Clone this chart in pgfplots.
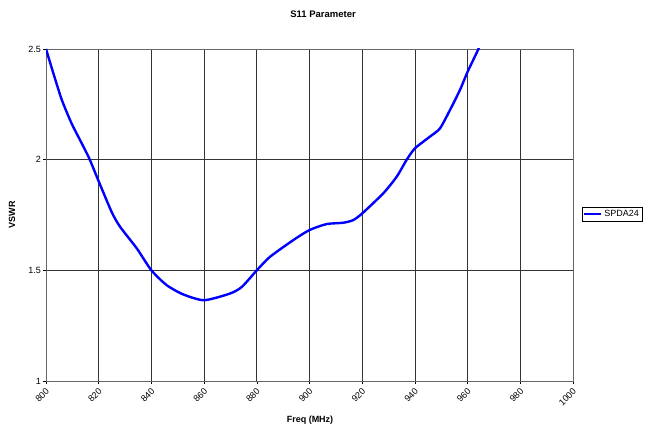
\documentclass[border=0pt]{standalone}
\usepackage{fontspec}
\setmainfont{Liberation Sans}
\usepackage{pgfplots}
\pgfplotsset{compat=1.18}
\begin{document}
\begin{tikzpicture}[x=1pt,y=1pt]
\path[use as bounding box] (0,0) rectangle (647,430);
\begin{axis}[
  at={(46pt,49pt)}, anchor=south west,
  scale only axis, width=527pt, height=332pt,
  xmin=800, xmax=1000, ymin=1, ymax=2.5,
  xtick={800,820,...,1000}, ytick={1,1.5,2,2.5},
  yticklabels={1,1.5,2,2.5},
  xtick pos=bottom, ytick pos=left,
  tick align=outside, major tick length=3pt,
  tick style={black, line width=0.6pt},
  grid=major,
  major grid style={black!80, line width=0.7pt},
  axis line style={black!60, line width=0.8pt},
  /pgf/number format/assume math mode=true,
  /pgf/number format/1000 sep={},
  ticklabel style={font=\fontsize{9}{10}\selectfont},
  xticklabel style={rotate=45, anchor=north east, inner sep=0pt, xshift=-3pt, yshift=-2pt},
  yticklabel style={inner sep=2pt},
  legend style={at={(1.017,0.503)}, anchor=west, draw=black, line width=0.6pt,
    font=\fontsize{9}{10}\selectfont, inner sep=1pt, row sep=0pt},
  legend cell align=left,
  legend image post style={line width=2pt},
]
\addplot[blue, line width=2.4pt, smooth, tension=0.4] coordinates {
(800,2.50) (802.8,2.39) (806,2.27) (809.7,2.164) (812.9,2.089) (816.4,2.006)
(819.8,1.908) (824.9,1.764) (828.1,1.697) (834.4,1.60) (840,1.50)
(845.8,1.433) (852.1,1.391) (860,1.365) (869.8,1.395) (874.3,1.425)
(880,1.50) (885,1.561) (893.9,1.637) (900,1.682) (906.5,1.709) (912.8,1.715)
(916.6,1.727) (920,1.757) (928,1.848) (933.1,1.923) (936.9,2.0) (940,2.051)
(945.7,2.104) (949.5,2.141) (953.3,2.224) (957.1,2.315) (960,2.397)
(964.1,2.50) (966,2.56)
};
\addlegendentry{SPDA24}
\end{axis}
\node[font=\bfseries\fontsize{9.5}{11}\selectfont] at (323,416) {S11 Parameter};
\node[font=\bfseries\fontsize{9}{10}\selectfont, rotate=90] at (12,215) {VSWR};
\node[font=\bfseries\fontsize{9}{10}\selectfont] at (310,10) {Freq (MHz)};
\end{tikzpicture}
\end{document}
